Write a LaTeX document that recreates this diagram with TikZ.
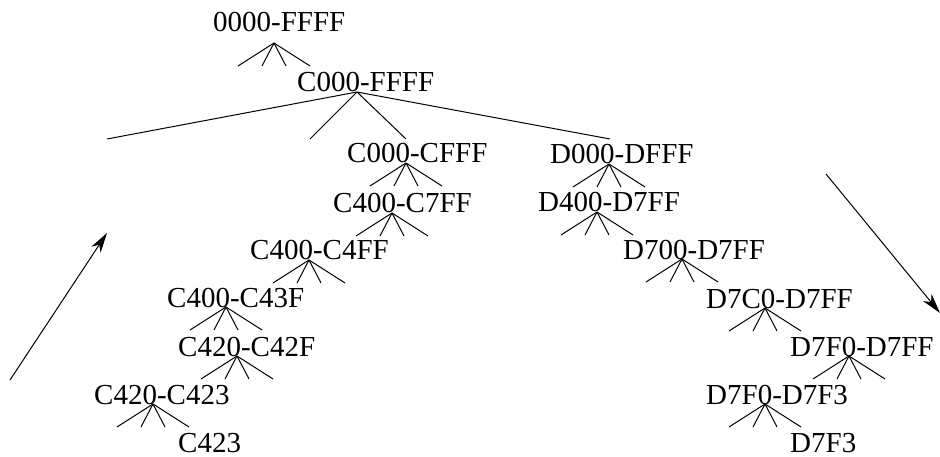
\documentclass[tikz,border=0pt]{standalone}
\usepackage{fontspec}
\setmainfont{Liberation Serif}
\usepackage{tikz}
\usetikzlibrary{calc,positioning,arrows.meta}

\tikzset{
  addr/.style={anchor=base west,inner sep=0pt,font=\fontsize{29}{34}\selectfont},
  branch/.style={line width=1pt},
  walk/.style={line width=1pt,-{Stealth[length=20pt,width=11pt,inset=6pt]}}
}

\begin{document}
\begin{tikzpicture}[x=1pt,y=-1pt]
  \useasboundingbox (0,0) rectangle (940,457);
  % \draw[gray!30,step=10] (0,0) grid (940,457); %help grid

  % top of the tree
  \node[addr] (root) at (213,32) {0000-FFFF};
  \node[addr] (cseg) at (297,92) {C000-FFFF};

  % C side, walking down
  \node[addr] (c000) at (347,163) {C000-CFFF};
  \node[addr] (c400) at (333,213) {C400-C7FF};
  \node[addr] (c4ff) at (250,260) {C400-C4FF};
  \node[addr] (c43f) at (167,307) {C400-C43F};
  \node[addr] (c42f) at (178,356) {C420-C42F};
  \node[addr] (c423) at (94,404)  {C420-C423};
  \node[addr] (c423x) at (178,452) {C423};

  % D side
  \node[addr] (d000) at (550,164) {D000-DFFF};
  \node[addr] (d400) at (538,212) {D400-D7FF};
  \node[addr] (d700) at (623,259) {D700-D7FF};
  \node[addr] (d7c0) at (706,308) {D7C0-D7FF};
  \node[addr] (d7f0) at (790,356) {D7F0-D7FF};
  \node[addr] (d7f3) at (706,404) {D7F0-D7F3};
  \node[addr] (d7f3x) at (790,452) {D7F3};

  % fork points under each addr
  \coordinate (root-fork) at ($(root.base west)+(61,11)$);
  \coordinate (cseg-fork) at ($(cseg.base west)+(60,0)$);
  \foreach \n in {c000,c400,c4ff,c43f,c42f,c423,d000,d400,d700,d7c0,d7f0,d7f3}
    \coordinate (\n-fork) at ($(\n.base west)+(59,0)$);

  % four-way forks
  \foreach \n in {root,c000,c400,c4ff,c43f,c42f,c423,d000,d400,d700,d7c0,d7f0,d7f3}
    \foreach \dx in {-36,-12,12,36}
      \draw[branch] (\n-fork) -- ++(\dx,23);

  % the wide fork below C000-FFFF
  \foreach \dx in {-250,-47,49,253}
    \draw[branch] (cseg-fork) -- ++(\dx,47);

  % direction of the walk
  \coordinate (upStart) at (10,380);
  \coordinate (upEnd) at (107,233);
  \coordinate (downStart) at (826,174);
  \coordinate (downEnd) at (940,313);
  \draw[walk] (upStart) -- (upEnd);
  \draw[walk] (downStart) -- (downEnd);
\end{tikzpicture}
\end{document}
